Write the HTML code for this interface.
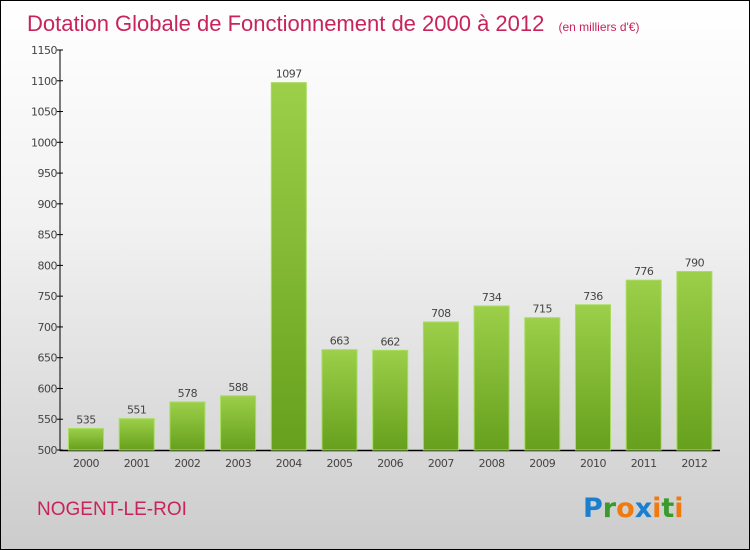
<!DOCTYPE html>
<html><head><meta charset="utf-8"><style>
body{margin:0}
#c{position:relative;width:748px;height:548px;border:1px solid #000;background:linear-gradient(#ffffff,#f2f2f2 40%,#cccccc);font-family:"DejaVu Sans","Liberation Sans",sans-serif;overflow:hidden}
</style></head><body>
<div id="c">
<svg id="s" width="748" height="548">
<defs><linearGradient id="g" x1="0" y1="0" x2="0" y2="1"><stop offset="0" stop-color="#9ccf4a"/><stop offset="1" stop-color="#66a01c"/></linearGradient></defs>
<text x="26" y="30" font-size="22" fill="#c8245a" font-family="'Liberation Sans',sans-serif">Dotation Globale de Fonctionnement de 2000 à 2012 <tspan font-size="12" dx="8">(en milliers d'€)</tspan></text>
<text x="36" y="514" font-size="19" fill="#c8245a" font-family="'Liberation Sans',sans-serif">NOGENT-LE-ROI</text>
<text x="582" y="516" font-size="27" font-weight="bold" font-family="'DejaVu Sans',sans-serif"><tspan fill="#1b7fd0">P</tspan><tspan fill="#3a9a2a">r</tspan><tspan fill="#f07a10">o</tspan><tspan fill="#1b7fd0">x</tspan><tspan fill="#f07a10">i</tspan><tspan fill="#3a9a2a">t</tspan><tspan fill="#f07a10">i</tspan></text>
</svg>
</div>
<script>
const years=["2000","2001","2002","2003","2004","2005","2006","2007","2008","2009","2010","2011","2012"];
const values=[535,551,578,588,1097,663,662,708,734,715,736,776,790];
const yTicks=[500,550,600,650,700,750,800,850,900,950,1000,1050,1100,1150];
const svg=document.getElementById('s');const NS="http://www.w3.org/2000/svg";
function y(v){return 449-(v-500)*400/650;}
function x(i){return 85+i*50.7;}
function mk(t,a){const e=document.createElementNS(NS,t);for(const k in a)e.setAttribute(k,a[k]);svg.appendChild(e);return e;}
let ax=mk('line',{x1:59,y1:49,x2:59,y2:450,stroke:'#000','stroke-width':1});


let bx=mk('line',{x1:59,y1:449.5,x2:719,y2:449.5,stroke:'#000','stroke-width':1.5});


yTicks.forEach(v=>{
 let t=mk('line',{x1:56,x2:62,y1:y(v),y2:y(v),stroke:'#000'});
 
 
 let l=mk('text',{x:56,y:y(v)+4,'font-size':11,'text-anchor':'end',fill:'#444','letter-spacing':'-0.5'});
 l.textContent=v;
 
 
});
years.forEach((yr,i)=>{
 const v=values[i];
 let r=mk('rect',{x:x(i)-17.5,y:y(v),width:35,height:449-y(v),fill:'url(#g)',stroke:'#a8dc60','stroke-width':1});
 
 
 let l=mk('text',{x:x(i),y:y(v)-5,'font-size':11,'text-anchor':'middle',fill:'#444','letter-spacing':'-0.5'});
 l.textContent=v;
 
 
 let t=mk('text',{x:x(i),y:466,'font-size':11,'text-anchor':'middle',fill:'#444','letter-spacing':'-0.5'});
 t.textContent=yr;
 
 
});
</script>
</body></html>
